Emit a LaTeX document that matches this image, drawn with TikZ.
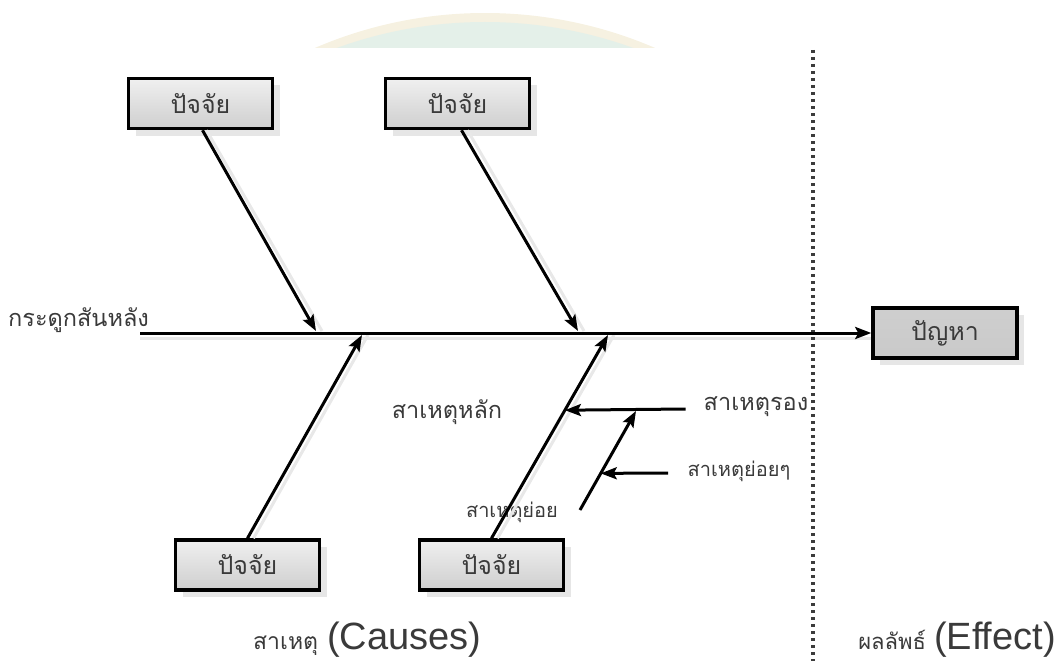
\documentclass[tikz,border=0pt]{standalone}
\usepackage{fontspec}
\setmainfont{Liberation Sans}
\newfontfamily\thai[Script=Thai]{Loma}
\usetikzlibrary{arrows.meta,shadows,calc}
\definecolor{txt}{HTML}{3A3A3A}
\definecolor{wmcream}{HTML}{F6F1E1}
\definecolor{wmgreen}{HTML}{E4F0E9}
\definecolor{dotc}{HTML}{3C3C3C}
\tikzset{
  fbox/.style={draw=black, line width=3.5pt, minimum width=144pt, minimum height=50pt,
    top color=gray!12, bottom color=gray!38, text=txt,
    font=\thai\fontsize{25}{28}\selectfont,
    drop shadow={shadow xshift=7pt, shadow yshift=-7pt, fill=gray!35, opacity=0.55}},
  probbox/.style={fbox, top color=gray!38, bottom color=gray!42},
  arr/.style={line width=3pt, -{Stealth[length=16pt, width=12pt, inset=3pt]}},
  shad/.style={line width=3pt, gray!18},
  lbl/.style={text=txt, font=\thai\fontsize{23.5}{26}\selectfont, inner sep=0pt},
  slbl/.style={text=txt, font=\thai\fontsize{20}{23}\selectfont, inner sep=0pt},
  dotline/.style={dotc, line width=3.5pt, dash pattern=on 3pt off 4pt}
}
\begin{document}
\begin{tikzpicture}[x=1pt,y=-1pt]
\useasboundingbox (0,0) rectangle (1058,661);
% faint watermark
\begin{scope}
  \clip (0,0) rectangle (1058,48);
  \fill[wmcream] (485,443) circle (430);
  \fill[wmgreen] (485,456) circle (434);
\end{scope}
% nodes
\node[fbox] (b1) at (200.5,103.5) {ปัจจัย};
\node[fbox] (b2) at (457.5,103.5) {ปัจจัย};
\node[fbox] (b3) at (247.5,565) {ปัจจัย};
\node[fbox] (b4) at (491.5,565) {ปัจจัย};
\node[probbox] (prob) at (945,333) {ปัญหา};
\node[lbl, anchor=west] (spine) at (8,320) {กระดูกสันหลัง};
\node[lbl] (main) at (447,412) {สาเหตุหลัก};
\node[lbl] (rong) at (756,407) {สาเหตุรอง};
\node[slbl] (yoyy) at (739,471) {สาเหตุย่อยๆ};
\node[slbl] (yoy) at (512,512) {สาเหตุย่อย};
\node[anchor=base west, inner sep=0pt, text=txt] (causes) at (253,649)
  {{\thai\fontsize{23}{26}\selectfont สาเหตุ}\hspace{9pt}{\fontsize{38}{42}\selectfont (Causes)}};
\node[anchor=base east, inner sep=0pt, text=txt] (effect) at (1056,649)
  {{\thai\fontsize{22}{25}\selectfont ผลลัพธ์}\hspace{8pt}{\fontsize{38}{42}\selectfont (Effect)}};
% coordinates
\coordinate (sp0) at (140,333);
\coordinate (j1) at (316,331);
\coordinate (j2) at (578,331);
\coordinate (j3) at (362,335);
\coordinate (j4) at (608,335);
\coordinate (s0) at (580,510);
\coordinate (s1) at (636,411);
\coordinate (d0) at (813,50);
\coordinate (d1) at (813,661);
\coordinate (r0) at ([xshift=-18pt]rong.west |- 0,409);
\coordinate (r1) at ($(b4.north)!0.63!(j4)$);
\coordinate (y0) at (668,473);
\coordinate (y1) at ($(s0)!0.37!(s1)$);
% shadows of lines
\draw[shad] ([yshift=-5pt]sp0) -- ([yshift=-5pt]prob.west);
\draw[shad] ([xshift=6pt]b1.south) -- ([xshift=6pt]j1);
\draw[shad] ([xshift=10pt]b2.south) -- ([xshift=6pt]j2);
\draw[shad] ([xshift=6pt]b3.north) -- ([xshift=6pt]j3);
\draw[shad] ([xshift=6pt]b4.north) -- ([xshift=6pt]j4);
% dotted divider
\draw[dotline] (d0) -- (d1);
% connectors
\draw[arr] (sp0) -- (prob.west);
\draw[arr] ([xshift=2pt]b1.south) -- (j1);
\draw[arr] ([xshift=4pt]b2.south) -- (j2);
\draw[arr] (b3.north) -- (j3);
\draw[arr] (b4.north) -- (j4);
\draw[arr] (r0) -- (r1);
\draw[arr] (s0) -- (s1);
\draw[arr] (y0) -- (y1);
\end{tikzpicture}
\end{document}
